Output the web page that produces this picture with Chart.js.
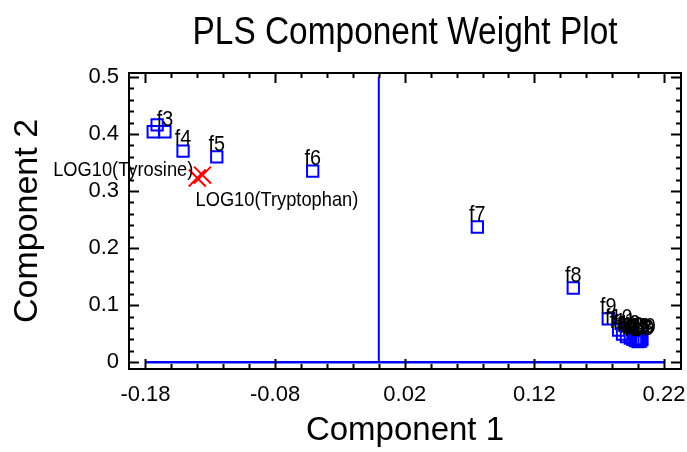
<!DOCTYPE html>
<html>
<head>
<meta charset="utf-8">
<title>PLS Component Weight Plot</title>
<script src="https://cdn.jsdelivr.net/npm/chart.js@4.4.1/dist/chart.umd.min.js"></script>
<style>
  html, body { margin: 0; padding: 0; background: #fff; }
  #wrap { width: 687px; height: 452px; }
</style>
</head>
<body>
<div id="wrap"><canvas id="plot"></canvas></div>
<script>
// X variables: weights on component 1 and component 2
const names = ['f1', 'f2', 'f3', 'f4', 'f5', 'f6', 'f7', 'f8', 'f9', 'f10',
  'f11', 'f12', 'f13', 'f14', 'f15', 'f16', 'f17', 'f18', 'f19', 'f20'];
const comp1 = [-0.174, -0.171, -0.165, -0.151, -0.125, -0.051, 0.076, 0.150, 0.177, 0.185,
  0.188, 0.191, 0.194, 0.196, 0.198, 0.199, 0.200, 0.201, 0.202, 0.203];
const comp2 = [0.404, 0.416, 0.404, 0.370, 0.360, 0.335, 0.237, 0.130, 0.076, 0.056,
  0.049, 0.045, 0.042, 0.040, 0.038, 0.041, 0.036, 0.039, 0.037, 0.040];
// labels written next to the squares (f1 and f2 sit under f3 and are left unlabelled)
const pointLabels = ['', '', 'f3', 'f4', 'f5', 'f6', 'f7', 'f8', 'f9', 'f10',
  'f11', 'f12', 'f13', 'f14', 'f15', 'f16', 'f17', 'f18', 'f19', 'f20'];

// Y variables (responses)
const respNames = ['LOG10(Tyrosine)', 'LOG10(Tryptophan)'];
const respComp1 = [-0.140, -0.136];
const respComp2 = [0.323, 0.328];

// axis ticks
const xTicks = [-0.18, -0.08, 0.02, 0.12, 0.22];
const xTickLabels = ['-0.18', '-0.08', '0.02', '0.12', '0.22'];
const yTicks = [0, 0.1, 0.2, 0.3, 0.4, 0.5];
const yTickLabels = ['0', '0.1', '0.2', '0.3', '0.4', '0.5'];

const FONT = "'Liberation Sans', Arial, Helvetica, sans-serif";
const BLUE = '#0000ff';
const RED = '#ff0000';

// narrow, tall text like the original graphics output
function narrowText(ctx, text, x, y, sx) {
  ctx.save();
  ctx.translate(x, y);
  ctx.scale(sx, 1);
  ctx.fillText(text, 0, 0);
  ctx.restore();
}

// frame with inward major/minor ticks on all four sides
const framePlugin = {
  id: 'frame',
  afterDatasetsDraw(chart) {
    const { ctx, chartArea: a, scales } = chart;
    const xs = scales.x, ys = scales.y;
    ctx.save();
    ctx.strokeStyle = '#000';
    ctx.lineWidth = 2;
    ctx.strokeRect(a.left, a.top, a.right - a.left, a.bottom - a.top);
    ctx.beginPath();
    const step = 0.02;
    const x0 = xTicks[0], x1 = xTicks[xTicks.length - 1];
    for (let k = 0; x0 + k * step <= x1 + 1e-9; k++) {
      const v = x0 + k * step;
      const len = k % 5 === 0 ? 10 : 5;
      const px = Math.round(xs.getPixelForValue(v)) + 0.5;
      ctx.moveTo(px, a.bottom); ctx.lineTo(px, a.bottom - len);
      ctx.moveTo(px, a.top); ctx.lineTo(px, a.top + len);
    }
    const y0 = yTicks[0], y1 = yTicks[yTicks.length - 1];
    for (let k = 0; y0 + k * step <= y1 + 1e-9; k++) {
      const v = y0 + k * step;
      const len = k % 5 === 0 ? 10 : 5;
      const py = Math.round(ys.getPixelForValue(v)) + 0.5;
      ctx.moveTo(a.left, py); ctx.lineTo(a.left + len, py);
      ctx.moveTo(a.right, py); ctx.lineTo(a.right - len, py);
    }
    ctx.stroke();
    ctx.restore();
  }
};

// point labels: variable names above squares, response names beside crosses
const labelPlugin = {
  id: 'pointNames',
  afterDatasetsDraw(chart) {
    const ctx = chart.ctx;
    ctx.save();
    ctx.fillStyle = '#000';
    ctx.font = '22px ' + FONT;
    ctx.textAlign = 'center';
    ctx.textBaseline = 'alphabetic';
    chart.getDatasetMeta(0).data.forEach((pt, i) => {
      if (pointLabels[i]) narrowText(ctx, pointLabels[i], pt.x, pt.y - 6, 0.9);
    });
    ctx.font = '21px ' + FONT;
    ctx.textBaseline = 'middle';
    const resp = chart.getDatasetMeta(1).data;
    ctx.textAlign = 'right';
    narrowText(ctx, respNames[0], resp[0].x - 4, resp[0].y - 8, 0.87);
    ctx.textAlign = 'left';
    narrowText(ctx, respNames[1], resp[1].x - 7, resp[1].y + 25, 0.87);
    ctx.restore();
  }
};

// main title centred over the plot area
const titlePlugin = {
  id: 'plotTitle',
  afterDraw(chart) {
    const { ctx, chartArea: a } = chart;
    ctx.save();
    ctx.fillStyle = '#000';
    ctx.font = '38px ' + FONT;
    ctx.textAlign = 'center';
    ctx.textBaseline = 'middle';
    narrowText(ctx, 'PLS Component Weight Plot', (a.left + a.right) / 2, 34, 0.88);
    ctx.restore();
  }
};

new Chart(document.getElementById('plot'), {
  type: 'scatter',
  data: {
    datasets: [
      {
        label: 'X variables',
        data: names.map((n, i) => ({ x: comp1[i], y: comp2[i] })),
        pointStyle: 'rect',
        pointRadius: 8,
        pointHoverRadius: 8,
        borderColor: BLUE,
        backgroundColor: 'rgba(0,0,0,0)',
        borderWidth: 2
      },
      {
        label: 'Y variables',
        data: respNames.map((n, i) => ({ x: respComp1[i], y: respComp2[i] })),
        pointStyle: 'crossRot',
        pointRadius: 12,
        pointHoverRadius: 12,
        borderColor: RED,
        backgroundColor: RED,
        borderWidth: 2
      },
      {
        type: 'line',
        label: 'zero x',
        data: [{ x: xTicks[0], y: 0 }, { x: xTicks[xTicks.length - 1], y: 0 }],
        borderColor: BLUE,
        borderWidth: 2.5,
        pointRadius: 0
      },
      {
        type: 'line',
        label: 'zero y',
        data: [{ x: 0, y: yTicks[0] }, { x: 0, y: yTicks[yTicks.length - 1] }],
        borderColor: BLUE,
        borderWidth: 2,
        pointRadius: 0
      }
    ]
  },
  options: {
    responsive: true,
    maintainAspectRatio: false,
    animation: false,
    layout: { autoPadding: false, padding: { left: 4, right: 6, top: 73, bottom: 0 } },
    plugins: {
      legend: { display: false },
      tooltip: { enabled: false }
    },
    scales: {
      x: {
        type: 'linear',
        min: -0.1927,
        max: 0.2331,
        afterBuildTicks: s => { s.ticks = xTicks.map(v => ({ value: v })); },
        afterFit: s => { s.height = 83; s.paddingLeft = 0; s.paddingRight = 0; },
        grid: { display: false, drawTicks: false },
        border: { display: false },
        ticks: {
          autoSkip: false,
          maxRotation: 0,
          padding: 13,
          color: '#000',
          font: { family: FONT, size: 22 },
          callback: (v, i) => xTickLabels[i]
        },
        title: {
          display: true,
          text: 'Component 1',
          color: '#000',
          font: { family: FONT, size: 33 },
          padding: { top: 0, bottom: 1 }
        }
      },
      y: {
        type: 'linear',
        min: -0.012,
        max: 0.507,
        afterBuildTicks: s => { s.ticks = yTicks.map(v => ({ value: v })); },
        afterFit: s => { s.width = 125; s.paddingTop = 0; s.paddingBottom = 0; },
        grid: { display: false, drawTicks: false },
        border: { display: false },
        ticks: {
          autoSkip: false,
          padding: 10,
          color: '#000',
          font: { family: FONT, size: 22 },
          callback: (v, i) => yTickLabels[i]
        },
        title: {
          display: true,
          text: 'Component 2',
          color: '#000',
          font: { family: FONT, size: 34 },
          padding: { top: 3, bottom: 0 }
        }
      }
    }
  },
  plugins: [framePlugin, labelPlugin, titlePlugin]
});
</script>
</body>
</html>
